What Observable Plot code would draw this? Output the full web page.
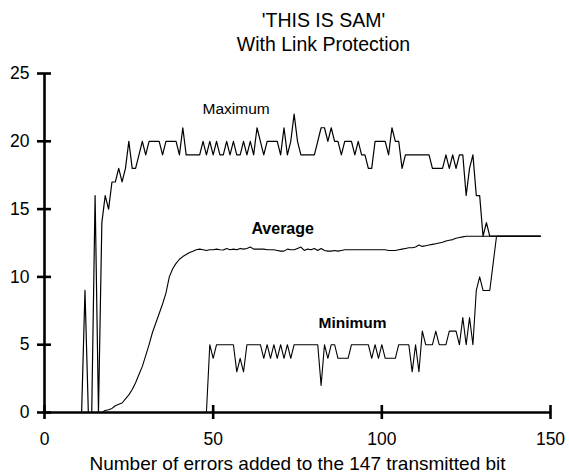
<!DOCTYPE html>
<html>
<head>
<meta charset="utf-8">
<script src="https://cdn.jsdelivr.net/npm/d3@7"></script>
<script src="https://cdn.jsdelivr.net/npm/@observablehq/plot@0.6"></script>
<style>
  body { margin: 0; background: #fff; }
</style>
</head>
<body>
<div id="chart"></div>
<script>
// Number of errors added (x), 1..147
const errors = d3.range(1, 148);

const maximum = [
  0,0,0,0,0,0,0,0,0,0,0, 9, 0,0, 16, 0,
  14,16,15,17,17,18,17,18,20,18,18,19,20,19,
  20,20,20,20, 19, 20,20,20,20, 19,21,
  19,19,19,19,19,
  20,19,20,19,20,19,19,20,19,20,19,19,20,19,20,19,21,20,19,
  20,20,20,20,
  19,21,19,20,22,20,
  19,19,19,19,19,
  20,21,21,20,21,20,20,19,20,20,20,19,20,19,19,18,18,
  20,20,20,20,
  19,21,20,20,18,
  19,19,19,19,19,19,19,19,
  18,18,18,18,
  19,18,19,18,19,19,16,18,19,16,16,13,14,
  13,13,13,13,13,13,13,13,13,13,13,13,13,13,13,13
];

const average = [
  0,0,0,0,0,0,0,0,0,0,0,0,0,0,0,0,
  0,0.15,0.2,0.3,0.5,0.6,0.7,1.0,1.3,1.7,2.2,2.8,3.4,4.2,5.0,5.9,6.6,7.3,8.0,8.8,10.0,10.6,11.0,11.3,11.5,11.65,11.8,11.9,12.0,12.05,12.0,11.95,
  12.0,12.0,12.05,12.0,11.98,12.1,12.0,12.05,12.0,12.1,12.05,12.1,12.2,12.05,12.05,12.05,12.05,12.0,12.0,12.0,11.95,11.9,11.9,12.05,12.0,12.0,12.1,12.2,11.95,12.05,12.0,12.1,11.95,12.1,11.95,11.9,11.9,11.95,11.9,11.95,12.0,12.0,
  12,12,12,12,12,12,12,12,12,12,12,
  11.95,11.95,11.95,12.0,12.05,12.1,12.15,12.15,12.2,12.35,12.25,12.3,12.35,12.4,12.45,12.5,12.55,12.65,12.7,12.75,12.85,12.9,12.95,
  13,13,13,13,13,13,13,13,13,13,13,13,13,13,13,13,13,13,13,13,13,13,13
];

const minimum = [
  0,0,0,0,0,0,0,0,0,0,0,0,0,0,0,0,0,0,0,0,0,0,0,0,
  0,0,0,0,0,0,0,0,0,0,0,0,0,0,0,0,0,0,0,0,0,0,0,0,
  5,4,5,5,5,5,5,5,3,4,3,
  5,5,5,5,5,
  4,5,4,5,4,5,4,5,4,
  5,5,5,5,5,5,5,5,
  2,5,4,5,5,4,4,4,4,5,
  5,5,5,5,5,
  4,5,4,5,
  4,4,4,4,
  5,5,5,5,
  3,5,3,6,5,5,5,6,5,5,5,6,6,6,5,7,5,7,5,9,10,9,9,9,11,
  13,13,13,13,13,13,13,13,13,13,13,13,13,13
];

const xTicks = [0, 50, 100, 150];
const yTicks = [0, 5, 10, 15, 20, 25];

const titleLines = ["'THIS IS SAM'", "With Link Protection"];
const xLabel = "Number of errors added to the 147 transmitted bit";

// Series labels (text and anchor in data units)
const labelNames = ["Maximum", "Average", "Minimum"];
const labelX = [56.8, 70.6, 91.3];
const labelY = [22.4, 13.55, 6.6];

const rows = (vals) => errors.map((e, i) => ({x: e, y: vals[i]}));
const label = (i) => [{text: labelNames[i], x: labelX[i], y: labelY[i]}];

const font = "'Liberation Sans', Arial, Helvetica, sans-serif";

const chart = Plot.plot({
  width: 569,
  height: 476,
  marginLeft: 44,
  marginRight: 19,
  marginTop: 73,
  marginBottom: 64,
  x: {domain: [0, 150]},
  y: {domain: [0, 25]},
  style: {fontFamily: font, fontSize: "17px", color: "#000", background: "#fff"},
  marks: [
    Plot.line(rows(maximum), {x: "x", y: "y", stroke: "#000", strokeWidth: 1.2}),
    Plot.line(rows(average), {x: "x", y: "y", stroke: "#000", strokeWidth: 1.1}),
    Plot.line(rows(minimum), {x: "x", y: "y", stroke: "#000", strokeWidth: 1.1}),
    // axis lines
    Plot.ruleY([0], {x1: 0, x2: 150, stroke: "#000", strokeWidth: 2.6}),
    Plot.ruleX([0], {y1: 0, y2: 25, stroke: "#000", strokeWidth: 2.6}),
    // crossing ticks
    Plot.axisX({ticks: xTicks, tickSize: 14, dy: -7, text: null, label: null, strokeWidth: 2.6}),
    Plot.axisY({ticks: yTicks, tickSize: 14, dx: 7, text: null, label: null, strokeWidth: 2.6}),
    // tick labels
    Plot.axisX({ticks: xTicks, tickSize: 0, tickPadding: 20, label: null, fontSize: 17.5}),
    Plot.axisY({ticks: yTicks, tickSize: 0, tickPadding: 15, label: null, fontSize: 17.5}),
    // axis title
    Plot.text([xLabel], {frameAnchor: "bottom", dy: 51, lineAnchor: "middle", fontSize: 19}),
    // titles
    Plot.text([titleLines[0]], {frameAnchor: "top", dx: 26, dy: -53, lineAnchor: "middle", fontSize: 19.5}),
    Plot.text([titleLines[1]], {frameAnchor: "top", dx: 26, dy: -29, lineAnchor: "middle", fontSize: 19.5}),
    // series labels
    Plot.text(label(0), {x: "x", y: "y", text: "text", fontSize: 15.5, lineAnchor: "middle"}),
    Plot.text(label(1), {x: "x", y: "y", text: "text", fontSize: 16, fontWeight: "bold", lineAnchor: "middle"}),
    Plot.text(label(2), {x: "x", y: "y", text: "text", fontSize: 15.5, fontWeight: "bold", lineAnchor: "middle"})
  ]
});

document.getElementById("chart").appendChild(chart);
</script>
</body>
</html>
